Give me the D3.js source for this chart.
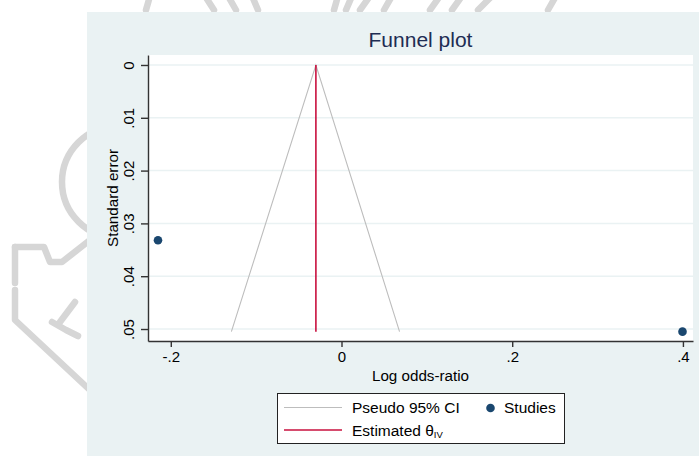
<!DOCTYPE html>
<html>
<head>
<meta charset="utf-8">
<script src="https://cdn.jsdelivr.net/npm/d3@7"></script>
<style>
  body { margin: 0; background: #fff; }
  svg { display: block; font-family: "Liberation Sans", Arial, sans-serif; }
</style>
</head>
<body>
<svg id="chart" width="699" height="456"></svg>
<script>
// study estimates
const studyLogOR = [-0.215, 0.3995];
const studySE = [0.0332, 0.0505];
// pooled (IV) estimate and pseudo 95% CI funnel
const thetaIV = -0.030;
const funnelLogOR = [-0.129, -0.030, 0.068];
const funnelSE = [0.0505, 0, 0.0505];
// axes
const xTicks = [-0.2, 0, 0.2, 0.4];
const xTickLabels = ["-.2", "0", ".2", ".4"];
const yTicks = [0, 0.01, 0.02, 0.03, 0.04, 0.05];
const yTickLabels = ["0", ".01", ".02", ".03", ".04", ".05"];

const svg = d3.select("#chart");
const plot = { left: 148, right: 693, top: 55, bottom: 341 };

//#region watermark (faint logo behind the graph)
const wm = svg.append("g")
  .attr("fill", "none")
  .attr("stroke", "#d6d6d6")
  .attr("stroke-width", 6.5)
  .attr("stroke-linecap", "round")
  .attr("stroke-linejoin", "round");
wm.append("circle").attr("cx", 118).attr("cy", 182).attr("r", 56);
wm.append("path").attr("d", "M15,247 L44,247 L50,262 L62,262 L90,240");
wm.append("path").attr("d", "M15,247 L15,283 M15,290 L15,320 L92,392");
wm.append("path").attr("d", "M75,302 L60,322 M52,322 L66,330 L78,336");
wm.append("path").attr("d", "M150,-4 L146,10 M205,-4 L214,10 M228,-4 L236,10 M252,-4 L258,10 M338,-4 L334,10");
wm.append("path").attr("d", "M352,-4 L346,10 M370,-4 L360,10 M392,-4 L384,10 M440,-4 L430,10 M462,-4 L452,10 M490,-2 L478,10 M556,-4 L548,10");
//#endregion

// graph region + plot region
svg.append("rect")
  .attr("x", 87).attr("y", 12)
  .attr("width", 699 - 87).attr("height", 456 - 12)
  .attr("fill", "#eaf2f3");
svg.append("rect")
  .attr("x", plot.left).attr("y", plot.top)
  .attr("width", plot.right - plot.left).attr("height", plot.bottom - plot.top)
  .attr("fill", "#ffffff");

const xScale = d3.scaleLinear().domain([-0.2267, 0.4118]).range([plot.left, plot.right]);
const yScale = d3.scaleLinear().domain([-0.00189, 0.05227]).range([plot.top, plot.bottom]);

// horizontal grid
svg.append("g")
  .selectAll("line")
  .data(yTicks)
  .enter()
  .append("line")
  .attr("x1", plot.left).attr("x2", plot.right)
  .attr("y1", (d) => yScale(d)).attr("y2", (d) => yScale(d))
  .attr("stroke", "#eaf2f3")
  .attr("stroke-width", 1.5);

// funnel
const line = d3.line().x((d) => xScale(d[0])).y((d) => yScale(d[1]));
svg.append("path")
  .datum(funnelLogOR.map((v, i) => [v, funnelSE[i]]))
  .attr("d", line)
  .attr("fill", "none")
  .attr("stroke", "#bdbdbd")
  .attr("stroke-width", 1.1);

// estimated theta
svg.append("line")
  .attr("x1", xScale(thetaIV)).attr("x2", xScale(thetaIV))
  .attr("y1", yScale(0)).attr("y2", yScale(d3.max(studySE)))
  .attr("stroke", "#c8103e")
  .attr("stroke-width", 1.6);

// studies
svg.append("g")
  .selectAll("circle")
  .data(studyLogOR.map((v, i) => ({ lor: v, se: studySE[i] })))
  .enter()
  .append("circle")
  .attr("cx", (d) => xScale(d.lor))
  .attr("cy", (d) => yScale(d.se))
  .attr("r", 4.3)
  .attr("fill", "#1a476f");

// axes
const xAxis = d3.axisBottom(xScale)
  .tickValues(xTicks)
  .tickFormat((d, i) => xTickLabels[i])
  .tickSize(6).tickSizeOuter(0).tickPadding(4);
const yAxis = d3.axisLeft(yScale)
  .tickValues(yTicks)
  .tickFormat((d, i) => yTickLabels[i])
  .tickSize(7).tickSizeOuter(0);

const xAxisG = svg.append("g")
  .attr("transform", `translate(0,${plot.bottom})`)
  .call(xAxis);
xAxisG.selectAll("text")
  .attr("font-size", 15)
  .attr("fill", "#000")
  .attr("font-family", "Liberation Sans, Arial, sans-serif");

const yAxisG = svg.append("g")
  .attr("transform", `translate(${plot.left},0)`)
  .call(yAxis);
yAxisG.selectAll("text")
  .attr("font-size", 15)
  .attr("fill", "#000")
  .attr("font-family", "Liberation Sans, Arial, sans-serif")
  .attr("text-anchor", "middle")
  .attr("transform", "rotate(-90)")
  .attr("x", 0)
  .attr("y", -14)
  .attr("dy", null);

[xAxisG, yAxisG].forEach((g) => {
  g.select(".domain").attr("stroke", "#333").attr("stroke-width", 1.4);
  g.selectAll(".tick line").attr("stroke", "#333").attr("stroke-width", 1.4);
});

// titles
svg.append("text")
  .attr("x", (plot.left + plot.right) / 2)
  .attr("y", 47)
  .attr("text-anchor", "middle")
  .attr("font-size", 21)
  .attr("fill", "#1e2d53")
  .text("Funnel plot");

svg.append("text")
  .attr("x", (plot.left + plot.right) / 2)
  .attr("y", 381)
  .attr("text-anchor", "middle")
  .attr("font-size", 15.2)
  .attr("fill", "#000")
  .text("Log odds-ratio");

svg.append("text")
  .attr("transform", `translate(118,${(plot.top + plot.bottom) / 2}) rotate(-90)`)
  .attr("text-anchor", "middle")
  .attr("font-size", 15.2)
  .attr("fill", "#000")
  .text("Standard error");

//#region legend
const legend = svg.append("g");
legend.append("rect")
  .attr("x", 277.5).attr("y", 393.5)
  .attr("width", 287).attr("height", 50)
  .attr("fill", "#fff")
  .attr("stroke", "#222")
  .attr("stroke-width", 1);

legend.append("line")
  .attr("x1", 284).attr("x2", 342).attr("y1", 407.5).attr("y2", 407.5)
  .attr("stroke", "#bdbdbd").attr("stroke-width", 1.1);
legend.append("text")
  .attr("x", 352).attr("y", 413)
  .attr("font-size", 15.5)
  .text("Pseudo 95% CI");

legend.append("circle")
  .attr("cx", 490.5).attr("cy", 408)
  .attr("r", 4.3)
  .attr("fill", "#1a476f");
legend.append("text")
  .attr("x", 504).attr("y", 413)
  .attr("font-size", 15.5)
  .text("Studies");

legend.append("line")
  .attr("x1", 284).attr("x2", 342).attr("y1", 430).attr("y2", 430)
  .attr("stroke", "#c8103e").attr("stroke-width", 1.6);
const est = legend.append("text")
  .attr("x", 352).attr("y", 435.5)
  .attr("font-size", 15.5);
est.append("tspan").text("Estimated \u03b8");
est.append("tspan").attr("font-size", 9.5).attr("dy", 2).text("IV");
//#endregion
</script>
</body>
</html>
